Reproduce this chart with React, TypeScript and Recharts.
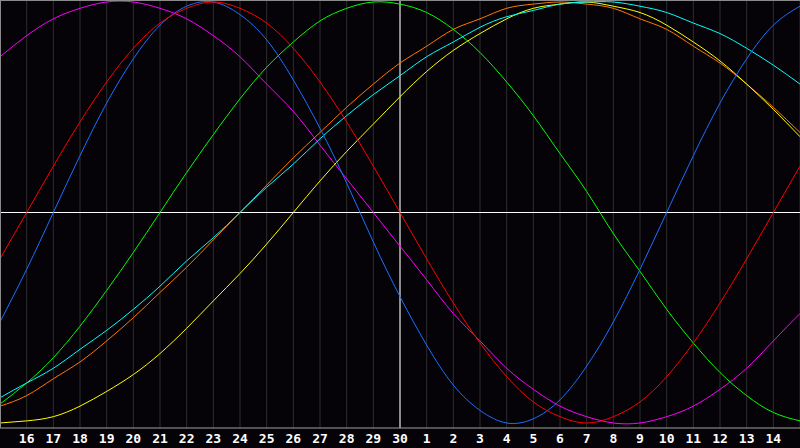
import React from 'react';
import { LineChart, Line, XAxis, YAxis, CartesianGrid, ReferenceLine } from 'recharts';

// Days shown: 15 (left edge) .. 30, 1 .. 15 (right edge); today = 30
const dayLabels = ['15','16','17','18','19','20','21','22','23','24','25','26','27','28','29','30','1','2','3','4','5','6','7','8','9','10','11','12','13','14','15'];
const tickIndexes = [1,2,3,4,5,6,7,8,9,10,11,12,13,14,15,16,17,18,19,20,21,22,23,24,25,26,27,28,29];

const redSeries = [-22,0,22,43,62,78,90,97,100,97,90,78,62,43,22,0,-22,-43,-62,-78,-90,-97,-100,-97,-90,-78,-62,-43,-22,0,22];
const blueSeries = [-52,-27,0,27,52,73,89,98,100,94,82,63,40,14,-14,-40,-63,-82,-94,-100,-98,-89,-73,-52,-27,0,27,52,73,89,98];
const greenSeries = [-91,-81,-69,-54,-37,-19,0,19,37,54,69,81,91,97,100,99,95,87,76,62,46,28,10,-10,-28,-46,-62,-76,-87,-95,-99];
const magentaSeries = [74,84,92,97,100,100,97,92,84,74,61,48,32,16,0,-16,-32,-48,-61,-74,-84,-92,-97,-100,-100,-97,-92,-84,-74,-61,-48];
const yellowSeries = [-100,-99,-97,-92,-85,-77,-67,-55,-42,-29,-15,0,15,29,42,55,67,77,85,92,97,99,100,98,95,89,81,72,61,49,36];
const orangeSeries = [-92,-87,-79,-71,-61,-50,-38,-26,-13,0,13,26,38,50,61,71,79,87,92,97,99,100,99,97,92,87,79,71,61,50,38];
const cyanSeries = [-88,-81,-74,-65,-56,-46,-35,-23,-12,0,12,23,35,46,56,65,74,81,88,93,96,99,100,100,98,95,90,85,78,70,61];

const data = dayLabels.map((label, i) => ({
  i,
  label,
  red: redSeries[i],
  blue: blueSeries[i],
  green: greenSeries[i],
  magenta: magentaSeries[i],
  yellow: yellowSeries[i],
  orange: orangeSeries[i],
  cyan: cyanSeries[i],
}));

const series = [
  { key: 'green', color: '#00ff00' },
  { key: 'magenta', color: '#ff00ff' },
  { key: 'orange', color: '#ff7800' },
  { key: 'yellow', color: '#ffff00' },
  { key: 'cyan', color: '#00ffff' },
  { key: 'blue', color: '#1a70ff' },
  { key: 'red', color: '#ff0000' },
];

export default function App() {
  return (
    <div style={{ position: 'absolute', left: 0, top: 0, width: 800, height: 448, background: '#050308', overflow: 'hidden' }}>
      <LineChart width={800} height={448} data={data} margin={{ top: 0, right: 0, bottom: 0, left: 0 }}>
        <CartesianGrid horizontal={false} stroke="#2e2e2e" />
        <XAxis
          dataKey="i"
          type="number"
          domain={[0, 30]}
          ticks={tickIndexes}
          interval={0}
          tickFormatter={(v: number) => dayLabels[v]}
          tick={{ fill: '#ffffff', fontSize: 13, fontWeight: 'bold', fontFamily: 'DejaVu Sans Mono' }}
          axisLine={{ stroke: '#a0a0a0' }}
          tickLine={false}
          tickSize={4}
          tickMargin={2}
          height={20}
          allowDataOverflow
        />
        <YAxis hide type="number" domain={[-102.38, 100.95]} allowDataOverflow />
        <ReferenceLine x={15} stroke="#ffffff" strokeWidth={1} />
        <ReferenceLine y={0} stroke="#ffffff" strokeWidth={1} />
        {series.map((s) => (
          <Line
            key={s.key}
            dataKey={s.key}
            type="natural"
            stroke={s.color}
            strokeWidth={1}
            dot={false}
            activeDot={false}
            isAnimationActive={false}
          />
        ))}
      </LineChart>
      <div style={{ position: 'absolute', left: 0, top: 0, width: 800, height: 428, boxSizing: 'border-box', borderTop: '1px solid #8a8a8a', borderLeft: '1px solid #8a8a8a', pointerEvents: 'none' }} />
    </div>
  );
}
